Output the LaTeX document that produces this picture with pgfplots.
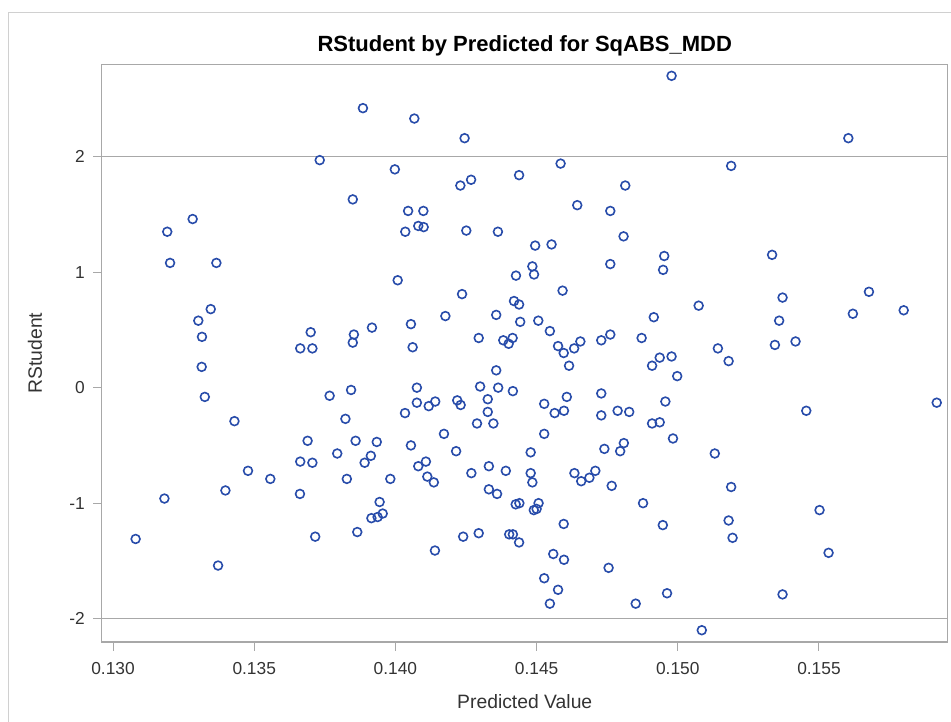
\documentclass[border=0pt]{standalone}
\usepackage{pgfplots}
\pgfplotsset{compat=1.18}
\usepackage{fontspec}
\setmainfont{Liberation Sans}
\definecolor{markblue}{RGB}{40,76,170}
\definecolor{framegray}{RGB}{168,168,168}
\definecolor{bordergray}{RGB}{208,208,208}
\definecolor{textgray}{RGB}{51,51,51}

% Studentized residuals against predicted values
\pgfplotstableread{
pred     rstud
0.13080 -1.31
0.13182 -0.96
0.13192  1.35
0.13202  1.08
0.13282  1.46
0.13366  1.08
0.13346  0.68
0.13302  0.58
0.13315  0.44
0.13314  0.18
0.13325 -0.08
0.13430 -0.29
0.13398 -0.89
0.13372 -1.54
0.13478 -0.72
0.13557 -0.79
0.13662 -0.92
0.13663 -0.64
0.13706 -0.65
0.13689 -0.46
0.13716 -1.29
0.13663  0.34
0.13706  0.34
0.13700  0.48
0.13732  1.97
0.13767 -0.07
0.13794 -0.57
0.13828 -0.79
0.13823 -0.27
0.13843 -0.02
0.13849  0.39
0.13853  0.46
0.13849  1.63
0.13859 -0.46
0.13865 -1.25
0.13885  2.42
0.13891 -0.65
0.13913 -0.59
0.13917  0.52
0.13915 -1.13
0.13937 -1.12
0.13955 -1.09
0.13934 -0.47
0.13944 -0.99
0.13982 -0.79
0.13998  1.89
0.14008  0.93
0.14034 -0.22
0.14035  1.35
0.14045  1.53
0.14055  0.55
0.14055 -0.50
0.14061  0.35
0.14067  2.33
0.14076  0.00
0.14076 -0.13
0.14081  1.40
0.14099  1.53
0.14100  1.39
0.14081 -0.68
0.14108 -0.64
0.14113 -0.77
0.14118 -0.16
0.14136 -0.82
0.14141 -0.12
0.14140 -1.41
0.14172 -0.40
0.14177  0.62
0.14215 -0.55
0.14219 -0.11
0.14231 -0.15
0.14230  1.75
0.14236  0.81
0.14240 -1.29
0.14245  2.16
0.14251  1.36
0.14268  1.80
0.14269 -0.74
0.14289 -0.31
0.14295  0.43
0.14295 -1.26
0.14300  0.01
0.14327 -0.10
0.14327 -0.21
0.14331 -0.68
0.14331 -0.88
0.14347 -0.31
0.14357  0.15
0.14357  0.63
0.14360 -0.92
0.14363  1.35
0.14364  0.00
0.14382  0.41
0.14391 -0.72
0.14401  0.38
0.14403 -1.27
0.14415  0.43
0.14416 -0.03
0.14416 -1.27
0.14420  0.75
0.14427  0.97
0.14426 -1.01
0.14438  1.84
0.14438  0.72
0.14439 -1.00
0.14438 -1.34
0.14442  0.57
0.14479 -0.56
0.14479 -0.74
0.14485  1.05
0.14485 -0.82
0.14491  0.98
0.14490 -1.06
0.14495  1.23
0.14500 -1.05
0.14506  0.58
0.14507 -1.00
0.14527 -0.14
0.14527 -0.40
0.14527 -1.65
0.14547  0.49
0.14547 -1.87
0.14553  1.24
0.14559 -1.44
0.14564 -0.22
0.14576  0.36
0.14576 -1.75
0.14585  1.94
0.14592  0.84
0.14596  0.30
0.14597 -0.20
0.14596 -1.18
0.14597 -1.49
0.14607 -0.08
0.14615  0.19
0.14633  0.34
0.14634 -0.74
0.14644  1.58
0.14655  0.40
0.14658 -0.81
0.14687 -0.78
0.14708 -0.72
0.14729  0.41
0.14729 -0.05
0.14729 -0.24
0.14740 -0.53
0.14755 -1.56
0.14761  1.53
0.14761  1.07
0.14761  0.46
0.14766 -0.85
0.14787 -0.20
0.14796 -0.55
0.14808  1.31
0.14809 -0.48
0.14814  1.75
0.14828 -0.21
0.14851 -1.87
0.14872  0.43
0.14877 -1.00
0.14915  0.61
0.14909  0.19
0.14909 -0.31
0.14936  0.26
0.14936 -0.30
0.14948  1.02
0.14947 -1.19
0.14952  1.14
0.14956 -0.12
0.14962 -1.78
0.14978  2.70
0.14978  0.27
0.14983 -0.44
0.14998  0.10
0.15074  0.71
0.15085 -2.10
0.15131 -0.57
0.15142  0.34
0.15180  0.23
0.15180 -1.15
0.15189  1.92
0.15189 -0.86
0.15194 -1.30
0.15334  1.15
0.15344  0.37
0.15359  0.58
0.15371  0.78
0.15371 -1.79
0.15417  0.40
0.15455 -0.20
0.15502 -1.06
0.15534 -1.43
0.15604  2.16
0.15620  0.64
0.15677  0.83
0.15800  0.67
0.15917 -0.13
}\residuals

\begin{document}
\begin{tikzpicture}
\useasboundingbox (0,0) rectangle (713.25pt,541.5pt);
% outer frame of the graph area
\draw[bordergray, line width=0.75pt] (6.6pt,0pt) -- (6.6pt,531.75pt) -- (713.25pt,531.75pt);
\begin{axis}[
  at={(76.3pt,60pt)}, anchor=south west,
  scale only axis, width=634.5pt, height=433.3pt,
  xmin=0.1296, xmax=0.15956, ymin=-2.202, ymax=2.80,
  axis line style={framegray, line width=0.9pt},
  xtick={0.130,0.135,0.140,0.145,0.150,0.155},
  xticklabels={0.130,0.135,0.140,0.145,0.150,0.155},
  ytick={-2,-1,0,1,2},
  yticklabels={-2,-1,0,1,2},
  tick align=outside, xtick pos=bottom, ytick pos=left,
  major tick length=6.5pt,
  tick style={framegray, line width=0.75pt},
  ticklabel style={font=\fontsize{13}{15}\selectfont, text=textgray},
  xticklabel style={yshift=-5pt},
  yticklabel style={xshift=-2.7pt},
  xlabel={Predicted Value}, ylabel={RStudent},
  label style={font=\fontsize{14.5}{17}\selectfont, text=textgray},
  xlabel style={at={(axis description cs:0.5,-0.1039)}, anchor=center},
  ylabel style={at={(axis description cs:-0.0788,0.5)}, anchor=center},
  title={\bfseries RStudent by Predicted for SqABS\_MDD},
  title style={at={(axis description cs:0.5,1)}, anchor=center, yshift=8pt,
    font=\fontsize{16.5}{20}\selectfont},
]
% reference lines at +/-2
\addplot[framegray, line width=0.9pt, forget plot] coordinates {(0.1296,2) (0.15956,2)};
\addplot[framegray, line width=0.9pt, forget plot] coordinates {(0.1296,-2) (0.15956,-2)};
\addplot[only marks, mark=o, mark size=3.3pt, mark options={draw=markblue, line width=1.2pt}]
  table[x=pred, y=rstud] {\residuals};
\end{axis}
\end{tikzpicture}
\end{document}
